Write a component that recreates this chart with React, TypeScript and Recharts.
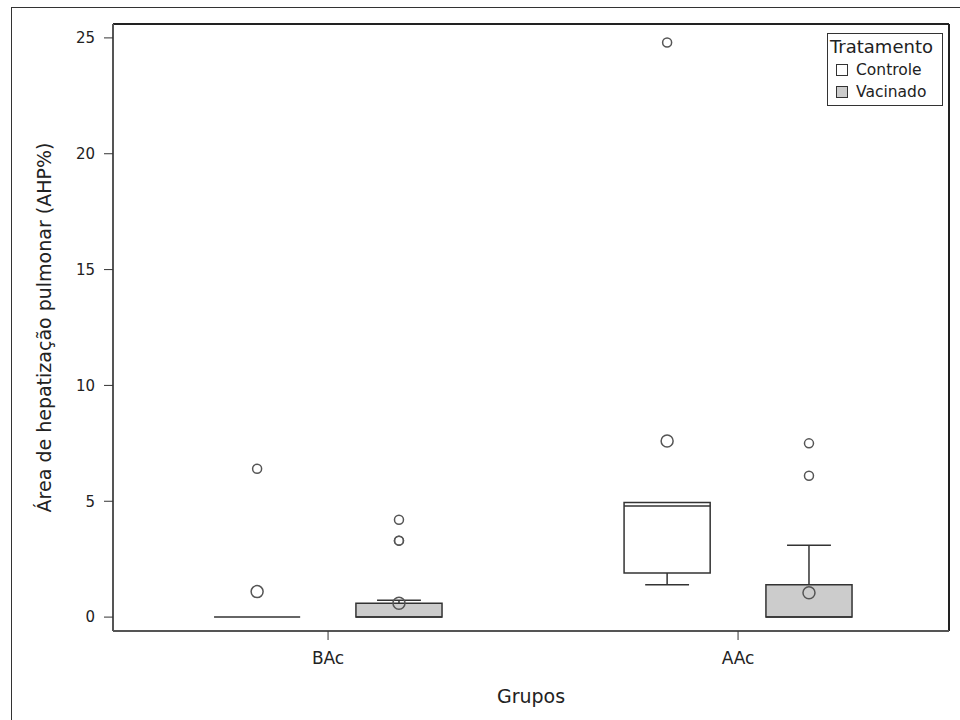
import React from "react"
import {
  ComposedChart,
  XAxis,
  YAxis,
  ReferenceArea,
  ReferenceLine,
  Scatter,
  Legend,
} from "recharts"

const groups = ["BAc", "AAc"]
const treatments = ["Controle", "Vacinado"]
const treatmentFill = ["#ffffff", "#cccccc"]

// one entry per box: BAc-Controle, BAc-Vacinado, AAc-Controle, AAc-Vacinado
const whiskerLow = [0, 0, 1.4, 0]
const q1 = [0, 0, 1.9, 0]
const median = [0, 0, 4.8, 0]
const q3 = [0, 0.6, 4.95, 1.4]
const whiskerHigh = [0, 0.73, 4.95, 3.1]
const means = [1.1, 0.6, 7.6, 1.05]
const outliers = [[6.4], [4.2, 3.3, 3.3], [24.8], [7.5, 6.1]]

const yTicks = [0, 5, 10, 15, 20, 25]
const groupPos = [1, 3]

const FONT = "'DejaVu Sans', sans-serif"
const INK = "#222"
const X_DOMAIN: [number, number] = [-0.049, 4.029]
const Y_DOMAIN: [number, number] = [-0.6, 25.6]
const OFFSET = 0.346
const BOX_HALF = 0.21
const CAP_HALF = 0.107

const boxes = q1.map((_, i) => {
  const g = Math.floor(i / 2)
  const t = i % 2
  return { g, t, x: groupPos[g] + (t === 0 ? -OFFSET : OFFSET) }
})

const outlierPoints = boxes.flatMap((b, i) => outliers[i].map((v) => ({ x: b.x, y: v })))
const meanPoints = boxes.map((b, i) => ({ x: b.x, y: means[i] }))

const seg = (x1: number, y1: number, x2: number, y2: number) => [
  { x: x1, y: y1 },
  { x: x2, y: y2 },
]

function LegendBox() {
  return (
    <div
      style={{
        boxSizing: "border-box",
        width: 116,
        height: 73,
        border: "1.5px solid #333",
        background: "#fff",
        fontFamily: FONT,
        color: INK,
        padding: "1px 0 0 2px",
      }}
    >
      <div style={{ fontSize: 18, lineHeight: "24px" }}>Tratamento</div>
      {treatments.map((t, i) => (
        <div key={t} style={{ display: "flex", alignItems: "center", height: 22, paddingLeft: 6 }}>
          <span
            style={{
              display: "inline-block",
              boxSizing: "border-box",
              width: 12,
              height: 12,
              border: "1.5px solid #333",
              background: treatmentFill[i],
              marginRight: 8,
            }}
          />
          <span style={{ fontSize: 15.5 }}>{t}</span>
        </div>
      ))}
    </div>
  )
}

export default function App() {
  return (
    <div
      style={{
        position: "fixed",
        left: 0,
        top: 0,
        width: 960,
        height: 720,
        overflow: "hidden",
        background: "#fff",
      }}
    >
      <div
        style={{
          position: "absolute",
          left: 11,
          top: 7,
          width: 1000,
          height: 800,
          border: "1.5px solid #333",
        }}
      />
      <ComposedChart
        width={960}
        height={720}
        data={[]}
        margin={{ top: 24, right: 11, bottom: 9, left: 20 }}
      >
        <XAxis
          dataKey="x"
          type="number"
          domain={X_DOMAIN}
          allowDataOverflow
          ticks={groupPos}
          tickFormatter={(v) => groups[groupPos.indexOf(v)] ?? ""}
          height={80}
          tickSize={9}
          tickMargin={12}
          axisLine={{ stroke: "#555", strokeWidth: 2 }}
          tickLine={{ stroke: "#333" }}
          tick={{ fill: INK, fontSize: 17, fontFamily: FONT }}
          label={{
            value: "Grupos",
            position: "insideBottom",
            offset: 8,
            style: { fill: INK, fontSize: 19, fontFamily: FONT },
          }}
        />
        <YAxis
          type="number"
          domain={Y_DOMAIN}
          allowDataOverflow
          ticks={yTicks}
          width={93}
          tickSize={9}
          tickMargin={9}
          axisLine={{ stroke: "#555", strokeWidth: 2 }}
          tickLine={{ stroke: "#333" }}
          tick={{ fill: INK, fontSize: 15, fontFamily: FONT }}
          label={{
            value: "Área de hepatização pulmonar (AHP%)",
            angle: -90,
            position: "insideLeft",
            offset: 24,
            style: { fill: INK, fontSize: 19, fontFamily: FONT, textAnchor: "middle" },
          }}
        />

        {/* plot frame, top and right */}
        <ReferenceLine y={Y_DOMAIN[1]} stroke="#222" strokeWidth={2} ifOverflow="visible" />
        <ReferenceLine x={X_DOMAIN[1]} stroke="#222" strokeWidth={2} ifOverflow="visible" />

        {boxes.map((b, i) =>
          q3[i] > q1[i] ? (
            <ReferenceArea
              key={`box-${i}`}
              x1={b.x - BOX_HALF}
              x2={b.x + BOX_HALF}
              y1={q1[i]}
              y2={q3[i]}
              fill={treatmentFill[b.t]}
              fillOpacity={1}
              stroke="#333"
              strokeWidth={1.5}
            />
          ) : null
        )}
        {boxes.map((b, i) => (
          <ReferenceLine
            key={`med-${i}`}
            segment={seg(b.x - BOX_HALF, median[i], b.x + BOX_HALF, median[i])}
            stroke="#333"
            strokeWidth={1.5}
          />
        ))}
        {boxes.flatMap((b, i) => {
          const out: React.ReactNode[] = []
          if (whiskerHigh[i] > q3[i]) {
            out.push(
              <ReferenceLine key={`wh-${i}`} segment={seg(b.x, q3[i], b.x, whiskerHigh[i])} stroke="#333" strokeWidth={1.5} />,
              <ReferenceLine
                key={`wch-${i}`}
                segment={seg(b.x - CAP_HALF, whiskerHigh[i], b.x + CAP_HALF, whiskerHigh[i])}
                stroke="#333"
                strokeWidth={1.5}
              />
            )
          }
          if (whiskerLow[i] < q1[i]) {
            out.push(
              <ReferenceLine key={`wl-${i}`} segment={seg(b.x, q1[i], b.x, whiskerLow[i])} stroke="#333" strokeWidth={1.5} />,
              <ReferenceLine
                key={`wcl-${i}`}
                segment={seg(b.x - CAP_HALF, whiskerLow[i], b.x + CAP_HALF, whiskerLow[i])}
                stroke="#333"
                strokeWidth={1.5}
              />
            )
          }
          return out
        })}

        <Scatter
          data={outlierPoints}
          dataKey="y"
          isAnimationActive={false}
          shape={(p: any) => (
            <circle cx={p.cx} cy={p.cy} r={4.5} fill="none" stroke="#555" strokeWidth={1.5} />
          )}
        />
        <Scatter
          data={meanPoints}
          dataKey="y"
          isAnimationActive={false}
          shape={(p: any) => (
            <circle cx={p.cx} cy={p.cy} r={6} fill="none" stroke="#555" strokeWidth={1.5} />
          )}
        />

        <Legend
          layout="horizontal"
          verticalAlign="middle"
          align="center"
          wrapperStyle={{ top: 33, left: 827, width: 116, height: 73 }}
          content={() => <LegendBox />}
        />
      </ComposedChart>
    </div>
  )
}
